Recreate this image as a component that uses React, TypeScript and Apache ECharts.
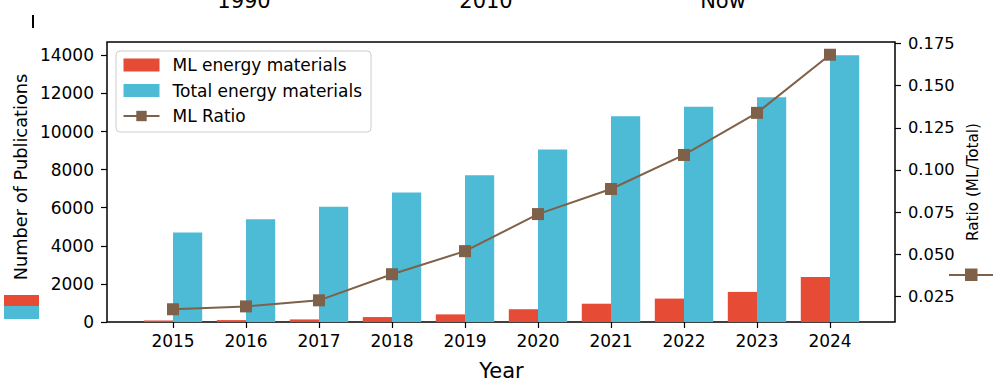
import React, { useEffect, useRef } from 'react';
import * as echarts from 'echarts';

const years = ['2015', '2016', '2017', '2018', '2019', '2020', '2021', '2022', '2023', '2024'];
const mlCounts = [80, 100, 135, 260, 400, 670, 960, 1230, 1580, 2360];
const totalCounts = [4700, 5400, 6050, 6800, 7700, 9050, 10800, 11300, 11800, 14000];
const mlRatio = [0.0173, 0.019, 0.0226, 0.0381, 0.0518, 0.0738, 0.0887, 0.1089, 0.1339, 0.1684];
const countTicks = [0, 2000, 4000, 6000, 8000, 10000, 12000, 14000];
const ratioTicks = [0.025, 0.05, 0.075, 0.1, 0.125, 0.15, 0.175];
const topLabels = ['1990', '2010', 'Now'];

const RED = '#E64B35';
const BLUE = '#4DBBD5';
const BROWN = '#7E6148';
const FONT = 'DejaVu Sans';

export default function App() {
  const ref = useRef<HTMLDivElement>(null);
  useEffect(() => {
    const chart = echarts.init(ref.current!, null, { renderer: 'svg' });
    const countMax = 14700;
    const ratioMin = 0.00974;
    const ratioMax = 0.17596;
    chart.setOption({
      animation: false,
      backgroundColor: '#fff',
      textStyle: { fontFamily: FONT },
      grid: [
        { left: 107, top: 42, width: 788, height: 280, show: true, borderColor: '#000', borderWidth: 1.5, backgroundColor: 'transparent', outerBoundsMode: 'none', containLabel: false },
        { left: 136.5, top: 42, width: 730, height: 280, outerBoundsMode: 'none', containLabel: false },
      ],
      legend: {
        left: 116,
        top: 51,
        orient: 'vertical',
        itemWidth: 36,
        itemHeight: 13,
        itemGap: 5.5,
        padding: [4, 9, 6, 6.5],
        backgroundColor: 'rgba(255,255,255,0.8)',
        borderColor: '#cccccc',
        borderWidth: 1,
        borderRadius: 4,
        textStyle: { fontFamily: FONT, fontSize: 17, color: '#000', lineHeight: 20, padding: [0, 0, 0, 8] },
        data: [
          { name: 'ML energy materials', icon: 'rect' },
          { name: 'Total energy materials', icon: 'rect' },
          { name: 'ML Ratio' },
        ],
      },
      xAxis: [
        { gridIndex: 0, type: 'value', min: 0, max: 1, show: false },
        {
          gridIndex: 1,
          type: 'category',
          data: years,
          axisLine: { show: false },
          axisTick: { show: true, alignWithLabel: true, length: 6, lineStyle: { color: '#000', width: 1.2 } },
          axisLabel: { fontFamily: FONT, fontSize: 17, color: '#000', margin: 10 },
          name: 'Year',
          nameLocation: 'middle',
          nameGap: 38,
          nameTextStyle: { fontFamily: FONT, fontSize: 21, color: '#000' },
        },
      ],
      yAxis: [
        {
          gridIndex: 0,
          type: 'value',
          position: 'left',
          min: 0,
          max: countMax,
          axisLine: { show: false },
          splitLine: { show: false },
          axisTick: { show: true, length: 6, customValues: countTicks, lineStyle: { color: '#000', width: 1.2 } },
          axisLabel: { fontFamily: FONT, fontSize: 17, color: '#000', margin: 13, customValues: countTicks, formatter: (v: number) => String(v) },
          name: 'Number of Publications',
          nameLocation: 'middle',
          nameRotate: 90,
          nameGap: 65,
          nameTextStyle: { fontFamily: FONT, fontSize: 17.8, color: '#000', padding: [0, 0, 0, 10] },
        },
        {
          gridIndex: 0,
          type: 'value',
          position: 'right',
          min: ratioMin,
          max: ratioMax,
          axisLine: { show: false },
          splitLine: { show: false },
          axisTick: { show: true, length: 6, customValues: ratioTicks, lineStyle: { color: '#000', width: 1.2 } },
          axisLabel: { fontFamily: FONT, fontSize: 16.3, color: '#000', margin: 13, customValues: ratioTicks, formatter: (v: number) => v.toFixed(3) },
          name: 'Ratio (ML/Total)',
          nameLocation: 'middle',
          nameRotate: 90,
          nameGap: 69,
          nameTextStyle: { fontFamily: FONT, fontSize: 15.2, color: '#000' },
        },
        { gridIndex: 1, type: 'value', min: 0, max: countMax, show: false },
        { gridIndex: 1, type: 'value', min: ratioMin, max: ratioMax, show: false },
      ],
      series: [
        {
          name: 'ML energy materials',
          type: 'bar',
          xAxisIndex: 1,
          yAxisIndex: 2,
          data: mlCounts,
          barWidth: 29.2,
          barGap: '0%',
          itemStyle: { color: RED },
        },
        {
          name: 'Total energy materials',
          type: 'bar',
          xAxisIndex: 1,
          yAxisIndex: 2,
          data: totalCounts,
          barWidth: 29.2,
          barGap: '0%',
          itemStyle: { color: BLUE },
        },
        {
          name: 'ML Ratio',
          type: 'line',
          xAxisIndex: 1,
          yAxisIndex: 3,
          data: mlRatio,
          symbol: 'rect',
          symbolSize: 12,
          z: 5,
          lineStyle: { color: BROWN, width: 2 },
          itemStyle: { color: BROWN },
        },
      ],
      graphic: [
        ...topLabels.map((t, i) => ({
          type: 'text',
          x: [244, 486, 723][i],
          y: 11,
          style: { text: t, fontFamily: FONT, fontSize: 21, fill: '#000', textAlign: 'center', textVerticalAlign: 'bottom' },
        })),
        { type: 'line', shape: { x1: 33, y1: 15, x2: 33, y2: 28 }, style: { stroke: '#000', lineWidth: 2 } },
        { type: 'rect', shape: { x: 4, y: 295, width: 35, height: 11 }, style: { fill: RED } },
        { type: 'rect', shape: { x: 4, y: 306, width: 35, height: 13 }, style: { fill: BLUE } },
        { type: 'line', shape: { x1: 949, y1: 275, x2: 993, y2: 275 }, style: { stroke: BROWN, lineWidth: 2 } },
        { type: 'rect', shape: { x: 965, y: 268.5, width: 12.5, height: 12.5 }, style: { fill: BROWN } },
      ],
    });
    return () => chart.dispose();
  }, []);
  return <div ref={ref} style={{ position: 'fixed', left: 0, top: 0, width: 1001, height: 381, background: '#fff' }} />;
}
